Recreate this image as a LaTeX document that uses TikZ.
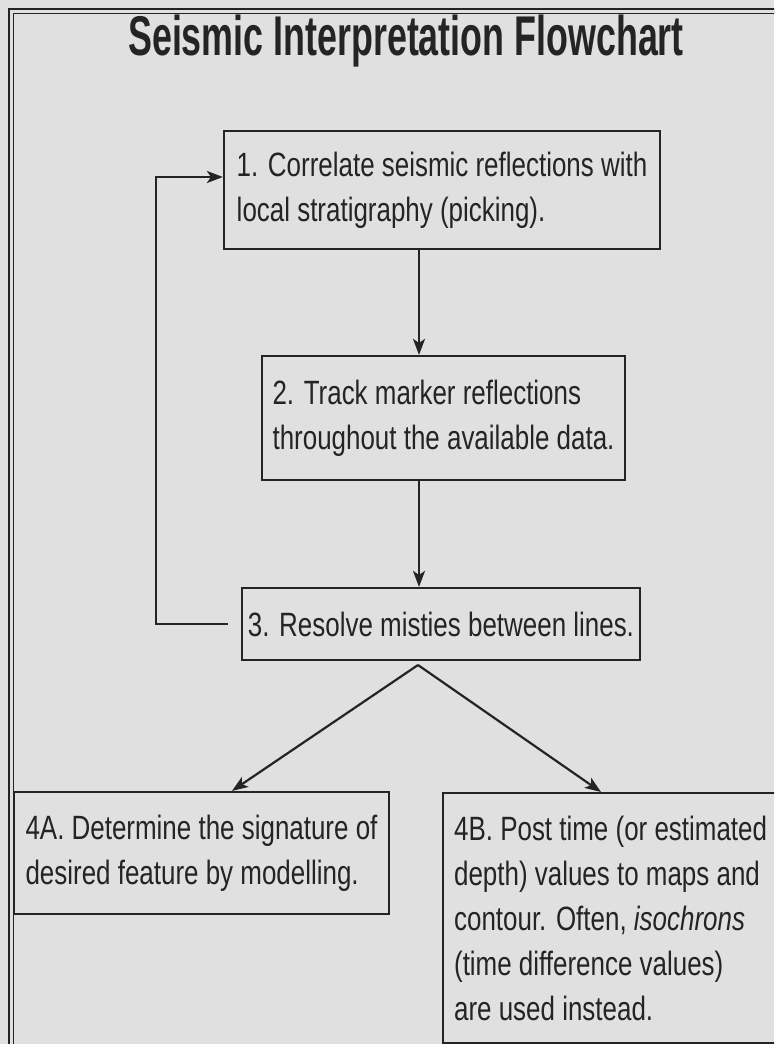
\documentclass[tikz,border=0pt]{standalone}
\usepackage{fontspec}
\newfontfamily\flowfont[FakeStretch=0.77]{Liberation Sans}
\newfontfamily\headfont[FakeStretch=0.64]{Liberation Sans}
\usetikzlibrary{arrows.meta}
\definecolor{scanpaper}{gray}{0.88}
\definecolor{inkline}{gray}{0.14}
\tikzset{
  stepbox/.style={draw=inkline, line width=2.2pt, align=left, inner sep=0pt, text=inkline},
  flowarrow/.style={draw=inkline, line width=2.2pt, -{Stealth[length=16pt,width=12pt,inset=4pt]}}
}
\begin{document}
\begin{tikzpicture}[x=1pt, y=-1pt, font=\flowfont\fontsize{33.7}{45}\selectfont]
		\clip (0,0) rectangle (774,1044);
		\fill[scanpaper] (0,0) rectangle (774,1044);
		\draw[inkline, line width=1.6pt, double=scanpaper, double distance=3pt] (11,11) rectangle (820,1100);
		\node[anchor=base, text=inkline, font=\headfont\bfseries\fontsize{56}{60}\selectfont] (title) at (406,55) {Seismic Interpretation Flowchart};
		\node[stepbox, minimum width=436pt, minimum height=118pt] (pick) at (442,190) {1. Correlate seismic reflections with\\local stratigraphy (picking).};
		\node[stepbox, minimum width=363pt, minimum height=124pt] (track) at (443.5,418) {2. Track marker reflections\\throughout the available data.};
		\node[stepbox, minimum width=398pt, minimum height=72pt] (resolve) at (441,624) {3. Resolve misties between lines.};
		\node[stepbox, minimum width=375pt, minimum height=122pt] (model) at (201.5,853) {4A. Determine the signature of\\desired feature by modelling.};
		\node[stepbox, anchor=north west, minimum width=335pt, minimum height=250pt] (post) at (442,792) {4B. Post time (or estimated\\depth) values to maps and\\contour. Often, \textit{isochrons}\\(time difference values)\\are used instead.};
		\coordinate (spine) at (419,0);
		\coordinate (loop) at (156,177);
		\coordinate (fork) at (418,665);
		\coordinate (lefttip) at (232,0);
		\coordinate (righttip) at (601,0);
		\draw[flowarrow] (pick.south -| spine) -- (track.north -| spine);
		\draw[flowarrow] (track.south -| spine) -- (resolve.north -| spine);
		\draw[flowarrow, shorten <=13pt] (resolve.west) -| (loop) -- (loop -| pick.west);
		\draw[flowarrow] (fork) -- (model.north -| lefttip);
		\draw[flowarrow] (fork) -- (post.north -| righttip);
	\end{tikzpicture}
\end{document}
